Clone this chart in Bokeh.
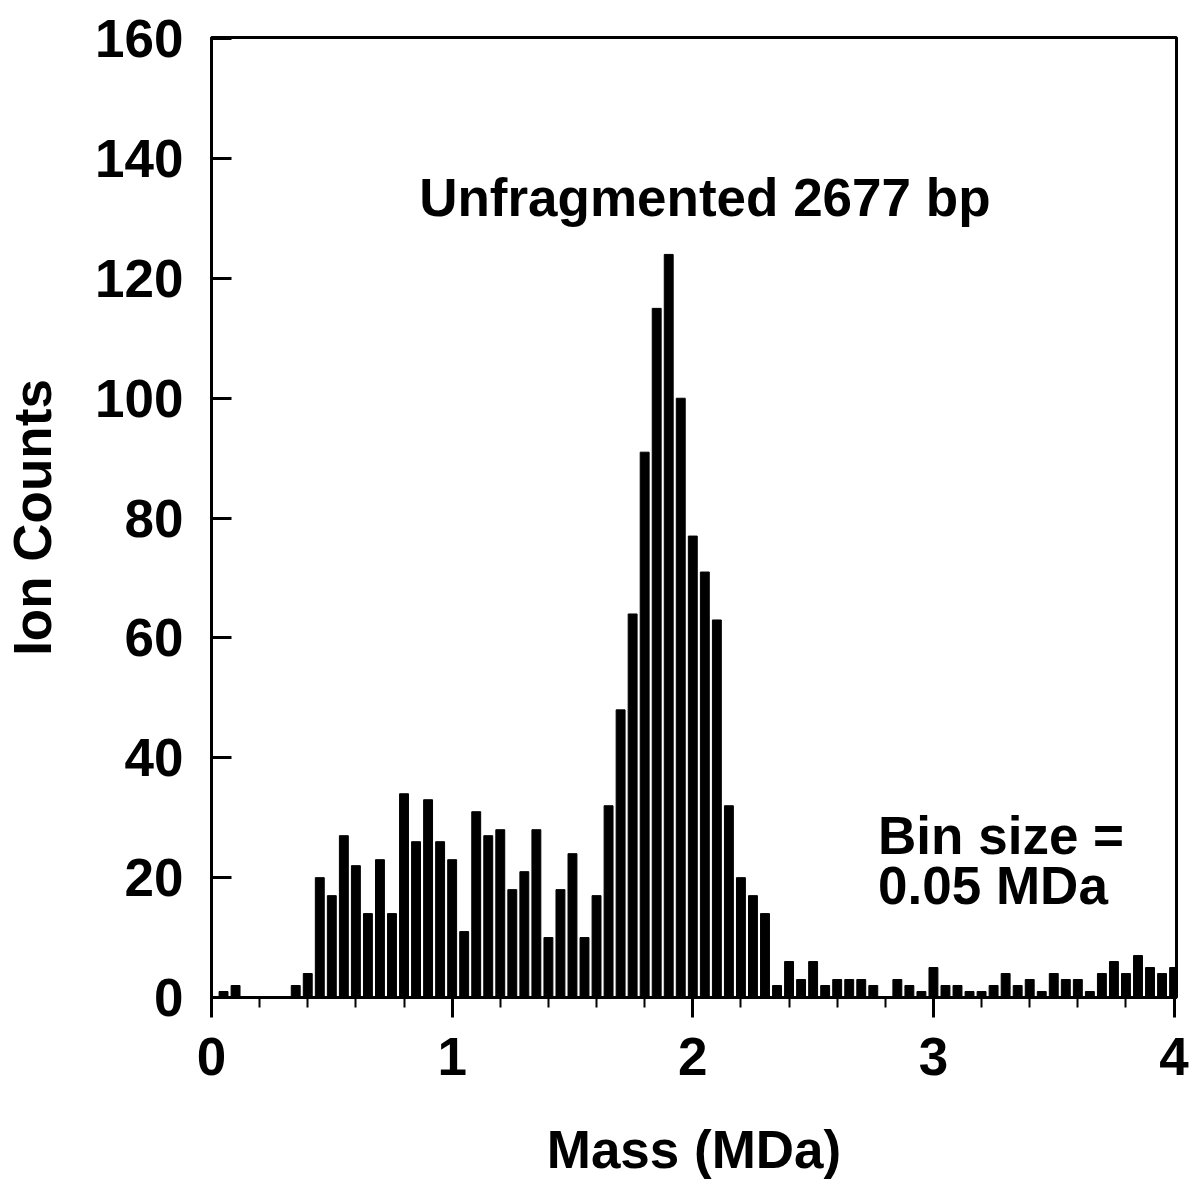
from bokeh.plotting import figure
from bokeh.models import Range1d, SingleIntervalTicker, Label
from bokeh.embed import file_html
from bokeh.resources import INLINE

# Bin centres (MDa) and ion counts
mass_bins = [0.05, 0.10, 0.15, 0.20, 0.25, 0.30, 0.35, 0.40, 0.45, 0.50,
             0.55, 0.60, 0.65, 0.70, 0.75, 0.80, 0.85, 0.90, 0.95, 1.00,
             1.05, 1.10, 1.15, 1.20, 1.25, 1.30, 1.35, 1.40, 1.45, 1.50,
             1.55, 1.60, 1.65, 1.70, 1.75, 1.80, 1.85, 1.90, 1.95, 2.00,
             2.05, 2.10, 2.15, 2.20, 2.25, 2.30, 2.35, 2.40, 2.45, 2.50,
             2.55, 2.60, 2.65, 2.70, 2.75, 2.80, 2.85, 2.90, 2.95, 3.00,
             3.05, 3.10, 3.15, 3.20, 3.25, 3.30, 3.35, 3.40, 3.45, 3.50,
             3.55, 3.60, 3.65, 3.70, 3.75, 3.80, 3.85, 3.90, 3.95, 4.00]
ion_counts = [1, 2, 0, 0, 0, 0, 2, 4, 20, 17,
              27, 22, 14, 23, 14, 34, 26, 33, 26, 23,
              11, 31, 27, 28, 18, 21, 28, 10, 18, 24,
              10, 17, 32, 48, 64, 91, 115, 124, 100, 77,
              71, 63, 32, 20, 17, 14, 2, 6, 3, 6,
              2, 3, 3, 3, 2, 0, 3, 2, 1, 5,
              2, 2, 1, 1, 2, 4, 2, 3, 1, 4,
              3, 3, 1, 4, 6, 4, 7, 5, 4, 5]

title_text = "Unfragmented 2677 bp"
bin_text_1 = "Bin size ="
bin_text_2 = "0.05 MDa"
x_label = "Mass (MDa)"
y_label = "Ion Counts"

FONT = "Liberation Sans"
FS = "53px"

p = figure(width=1199, height=1191, output_backend="svg", toolbar_location=None,
           x_range=Range1d(0, 4.01), y_range=Range1d(0, 160.2),
           min_border_left=211, min_border_right=23, min_border_top=37,
           min_border_bottom=194)
p.background_fill_color = "white"
p.border_fill_color = "white"
p.outline_line_color = "black"
p.outline_line_width = 3
p.grid.visible = False

p.vbar(x=mass_bins, top=ion_counts, width=0.037, bottom=0,
       fill_color="black", line_color="black", line_width=1)

# x axis
xa = p.xaxis[0]
xa.ticker = SingleIntervalTicker(interval=1, num_minor_ticks=5)
xa.axis_line_width = 3
xa.major_tick_in = 0
xa.major_tick_out = 20
xa.major_tick_line_width = 3
xa.minor_tick_in = 0
xa.minor_tick_out = 10
xa.minor_tick_line_width = 2
xa.major_label_text_font = FONT
xa.major_label_text_font_style = "bold"
xa.major_label_text_font_size = FS
xa.major_label_text_color = "black"
xa.major_label_standoff = 20
xa.axis_label = x_label
xa.axis_label_text_font = FONT
xa.axis_label_text_font_style = "bold"
xa.axis_label_text_font_size = FS
xa.axis_label_text_color = "black"
xa.axis_label_standoff = 42

# y axis
ya = p.yaxis[0]
ya.ticker = SingleIntervalTicker(interval=20, num_minor_ticks=0)
ya.axis_line_width = 3
ya.major_tick_in = 20
ya.major_tick_out = 0
ya.major_tick_line_width = 3
ya.minor_tick_in = 0
ya.minor_tick_out = 0
ya.major_label_text_font = FONT
ya.major_label_text_font_style = "bold"
ya.major_label_text_font_size = FS
ya.major_label_text_color = "black"
ya.major_label_standoff = 28
ya.axis_label = y_label
ya.axis_label_text_font = FONT
ya.axis_label_text_font_style = "bold"
ya.axis_label_text_font_size = FS
ya.axis_label_text_color = "black"
ya.axis_label_standoff = 30

p.add_layout(Label(x=2.05, y=133.5, text=title_text, text_align="center",
                   text_baseline="alphabetic", text_font=FONT,
                   text_font_style="bold", text_font_size=FS, text_color="black"))
p.add_layout(Label(x=2.77, y=27.1, text=bin_text_1, text_align="left",
                   text_baseline="alphabetic", text_font=FONT,
                   text_font_style="bold", text_font_size=FS, text_color="black"))
p.add_layout(Label(x=2.77, y=18.7, text=bin_text_2, text_align="left",
                   text_baseline="alphabetic", text_font=FONT,
                   text_font_style="bold", text_font_size=FS, text_color="black"))

open("out.html", "w").write(file_html(p, INLINE))
